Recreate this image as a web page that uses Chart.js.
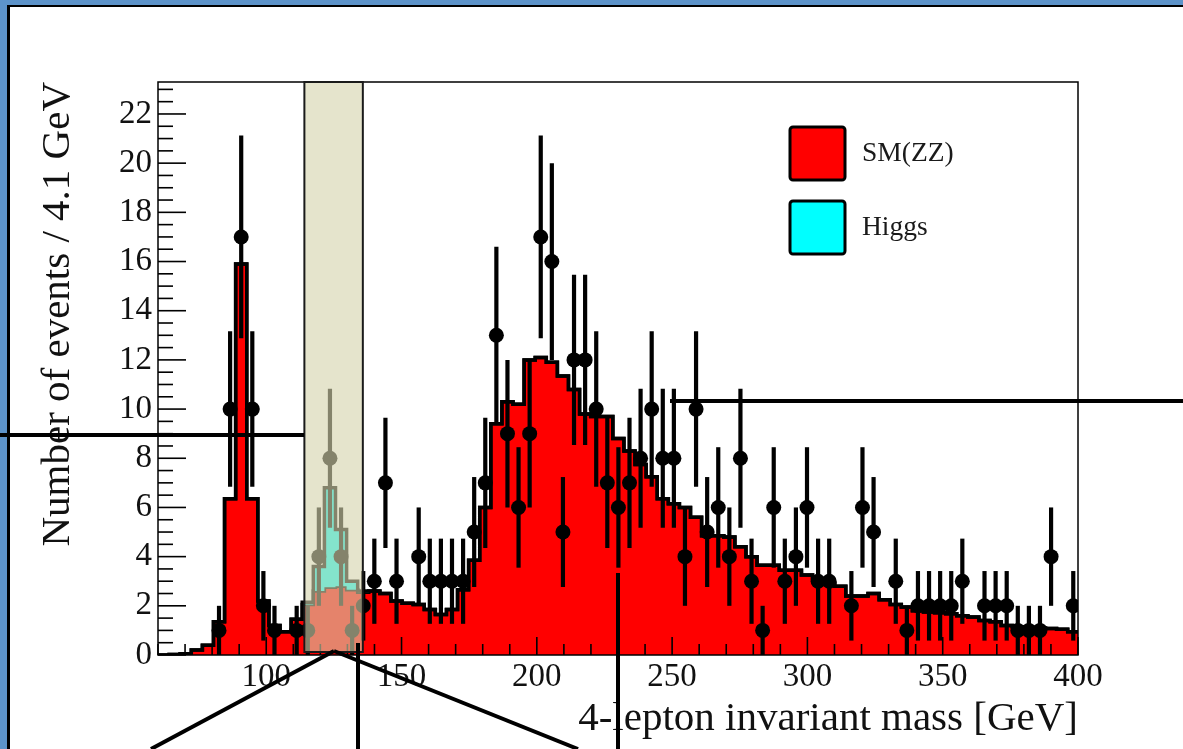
<!DOCTYPE html>
<html>
<head>
<meta charset="utf-8">
<script src="https://cdn.jsdelivr.net/npm/chart.js@4.4.1/dist/chart.umd.min.js"></script>
<style>
html,body{margin:0;padding:0;width:1183px;height:749px;overflow:hidden;background:#5d93c9;}
#panel{position:absolute;left:7px;top:5px;width:1200px;height:770px;background:#fff;border-top:2.5px solid #000;border-left:3px solid #000;box-sizing:border-box;}
#wrap{position:absolute;left:0;top:0;width:1183px;height:749px;}
</style>
</head>
<body>
<div id="panel"></div>
<div id="wrap"><canvas id="c" width="1183" height="749"></canvas></div>
<script>
// ---- histogram binning (GeV) ----
const binStart = 60;
const binWidth = 4.1;

// SM(ZZ) background expectation per bin
const smValues = [
  0, 0.02, 0.05, 0.2, 0.4, 1.35, 6.35, 15.9, 6.35, 2.2,
  1.2, 0.95, 1.45, 2.05, 2.6, 2.75, 2.8, 2.65, 2.55, 2.6,
  2.5, 2.2, 2.1, 2.05, 1.85, 1.65, 1.85, 2.65, 3.85, 6.0,
  9.4, 10.3, 10.2, 12.0, 12.1, 11.9, 11.35, 10.8, 9.8, 9.7,
  9.7, 8.8, 8.3, 7.75, 7.25, 6.35, 6.15, 6.0, 5.6, 4.85,
  4.85, 4.8, 4.4, 4.0, 3.65, 3.65, 3.45, 3.45, 3.25, 3.1,
  2.9, 2.8, 2.4, 2.4, 2.5, 2.25, 2.05, 1.95, 1.8, 1.75,
  1.72, 1.68, 1.6, 1.55, 1.4, 1.35, 1.2, 1.15, 1.12, 1.1,
  1.08, 1.05, 0.95
];

// Higgs signal per bin (stacked on SM)
const higgsValues = [
  0, 0, 0, 0, 0, 0, 0, 0, 0, 0,
  0, 0, 0, 0.1, 1.0, 4.05, 2.3, 0.35, 0.05, 0,
  0, 0, 0, 0, 0, 0, 0, 0, 0, 0,
  0, 0, 0, 0, 0, 0, 0, 0, 0, 0,
  0, 0, 0, 0, 0, 0, 0, 0, 0, 0,
  0, 0, 0, 0, 0, 0, 0, 0, 0, 0,
  0, 0, 0, 0, 0, 0, 0, 0, 0, 0,
  0, 0, 0, 0, 0, 0, 0, 0, 0, 0,
  0, 0, 0
];

// observed events per bin
const dataCounts = [
  0, 0, 0, 0, 0, 1, 10, 17, 10, 2,
  1, 0, 1, 1, 4, 8, 4, 1, 2, 3,
  7, 3, 0, 4, 3, 3, 3, 3, 5, 7,
  13, 9, 6, 9, 17, 16, 5, 12, 12, 10,
  7, 6, 7, 8, 10, 8, 8, 4, 10, 5,
  6, 4, 8, 3, 1, 6, 3, 4, 6, 3,
  3, 0, 2, 6, 5, 0, 3, 1, 2, 2,
  2, 2, 3, 0, 2, 2, 2, 1, 1, 1,
  4, 0, 2
];

const seriesNames = ['SM(ZZ)', 'Higgs', 'Data'];
const xTickValues = [100, 150, 200, 250, 300, 350, 400];
const yTickValues = [0, 2, 4, 6, 8, 10, 12, 14, 16, 18, 20, 22];
const higgsBand = [114.1, 135.7];
const xTitle = '4-lepton invariant mass [GeV]';
const yTitle = 'Number of events / 4.1 GeV';

// ---- build library data from the arrays ----
function stepPoints(vals) {
  const pts = vals.map((v, k) => ({x: binStart + binWidth * k, y: v}));
  pts.push({x: binStart + binWidth * vals.length, y: vals[vals.length - 1]});
  return pts;
}
const smPts = stepPoints(smValues);
const totPts = stepPoints(smValues.map((v, k) => v + higgsValues[k]));
const dataPts = [];
dataCounts.forEach((n, k) => { if (n > 0) dataPts.push({x: binStart + binWidth * (k + 0.5), y: n}); });

const SERIF = "'Liberation Serif', 'Times New Roman', serif";

function line(ctx, x1, y1, x2, y2) { ctx.beginPath(); ctx.moveTo(x1, y1); ctx.lineTo(x2, y2); ctx.stroke(); }

const rootDecor = {
  id: 'rootDecor',
  afterDatasetsDraw(chart) {
    const {ctx, chartArea: a, scales: {x, y}} = chart;
    ctx.save();
    // error bars (Poisson)
    ctx.strokeStyle = '#000';
    ctx.lineWidth = 4.2;
    dataCounts.forEach((n, k) => {
      if (!n) return;
      const px = x.getPixelForValue(binStart + binWidth * (k + 0.5));
      const e = Math.sqrt(n);
      line(ctx, px, y.getPixelForValue(Math.max(0, n - e)), px, y.getPixelForValue(n + e));
    });
    // axis ticks (inward)
    ctx.lineWidth = 1.6;
    for (let i = 0; i * 0.5 <= y.max + 1e-9; i++) {
      const py = y.getPixelForValue(i * 0.5);
      line(ctx, a.left, py, a.left + (i % 4 === 0 ? 28 : 15), py);
    }
    for (let v = 60; v <= 400; v += 10) {
      const px = x.getPixelForValue(v);
      line(ctx, px, a.bottom, px, a.bottom - (v % 50 === 0 ? 18 : 11));
    }
    // frame
    ctx.lineWidth = 1.5;
    ctx.strokeRect(a.left, a.top, a.right - a.left, a.bottom - a.top);
    // highlighted mass window overlay
    const bx1 = x.getPixelForValue(higgsBand[0]);
    const bx2 = x.getPixelForValue(higgsBand[1]);
    ctx.fillStyle = 'rgba(213,211,172,0.62)';
    ctx.fillRect(bx1, a.top, bx2 - bx1, a.bottom - 3 - a.top);
    ctx.strokeStyle = '#1a1a1a';
    ctx.lineWidth = 2;
    ctx.strokeRect(bx1, a.top, bx2 - bx1, a.bottom - 3 - a.top);
    // legend
    const items = [[seriesNames[0], '#ff0000', 127], [seriesNames[1], '#00ffff', 201]];
    items.forEach(([label, col, top]) => {
      ctx.beginPath();
      if (ctx.roundRect) ctx.roundRect(790, top, 55, 53, 3); else ctx.rect(790, top, 55, 53);
      ctx.fillStyle = col; ctx.fill();
      ctx.lineWidth = 3; ctx.strokeStyle = '#000'; ctx.stroke();
      ctx.fillStyle = '#1a1a1a';
      ctx.font = '27.5px ' + SERIF;
      ctx.textAlign = 'left'; ctx.textBaseline = 'middle';
      ctx.fillText(label, 862, top + 27);
    });
    ctx.restore();
  },
  afterDraw(chart) {
    const ctx = chart.ctx;
    ctx.save();
    ctx.strokeStyle = '#000';
    ctx.lineWidth = 4;
    line(ctx, 0, 435, 304, 435);
    line(ctx, 670, 401, 1183, 401);
    line(ctx, 334, 651, 151, 749);
    line(ctx, 334, 651, 578, 749);
    line(ctx, 358, 643, 358, 749);
    line(ctx, 618, 573, 618, 749);
    ctx.restore();
  }
};

new Chart(document.getElementById('c'), {
  type: 'line',
  data: {
    datasets: [
      {label: seriesNames[0], data: smPts, stepped: true, fill: 'origin', backgroundColor: '#ff0000',
       borderColor: '#000', borderWidth: 3.5, pointRadius: 0, order: 3},
      {label: seriesNames[1], data: totPts, stepped: true, fill: '-1', backgroundColor: '#00ffff',
       borderColor: '#000', borderWidth: 3.5, pointRadius: 0, order: 2},
      {label: seriesNames[2], data: dataPts, showLine: false, pointRadius: 7.5, pointStyle: 'circle',
       pointBackgroundColor: '#000', pointBorderColor: '#000', pointBorderWidth: 0, order: 1}
    ]
  },
  options: {
    responsive: false,
    animation: false,
    devicePixelRatio: 1,
    layout: {padding: {top: 82, right: 105, left: 0, bottom: 0}},
    plugins: {legend: {display: false}, tooltip: {enabled: false}},
    scales: {
      x: {
        type: 'linear', min: 60, max: 400,
        afterBuildTicks: s => { s.ticks = xTickValues.map(v => ({value: v})); },
        afterFit: s => { s.height = 94; },
        grid: {display: false, drawTicks: false},
        border: {display: false},
        ticks: {font: {family: SERIF, size: 33}, color: '#111', padding: 3, maxRotation: 0, autoSkip: false},
        title: {display: true, text: xTitle, align: 'end', color: '#111',
                font: {family: SERIF, size: 41}, padding: {top: 0, bottom: 5}}
      },
      y: {
        type: 'linear', min: 0, max: 23.3,
        afterBuildTicks: s => { s.ticks = yTickValues.map(v => ({value: v})); },
        afterFit: s => { s.width = 158; },
        grid: {display: false, drawTicks: false},
        border: {display: false},
        ticks: {font: {family: SERIF, size: 33}, color: '#111', padding: 6, autoSkip: false},
        title: {display: true, text: yTitle, align: 'end', color: '#111',
                font: {family: SERIF, size: 41}, padding: {top: 34, bottom: 0}}
      }
    }
  },
  plugins: [rootDecor]
});
</script>
</body>
</html>
